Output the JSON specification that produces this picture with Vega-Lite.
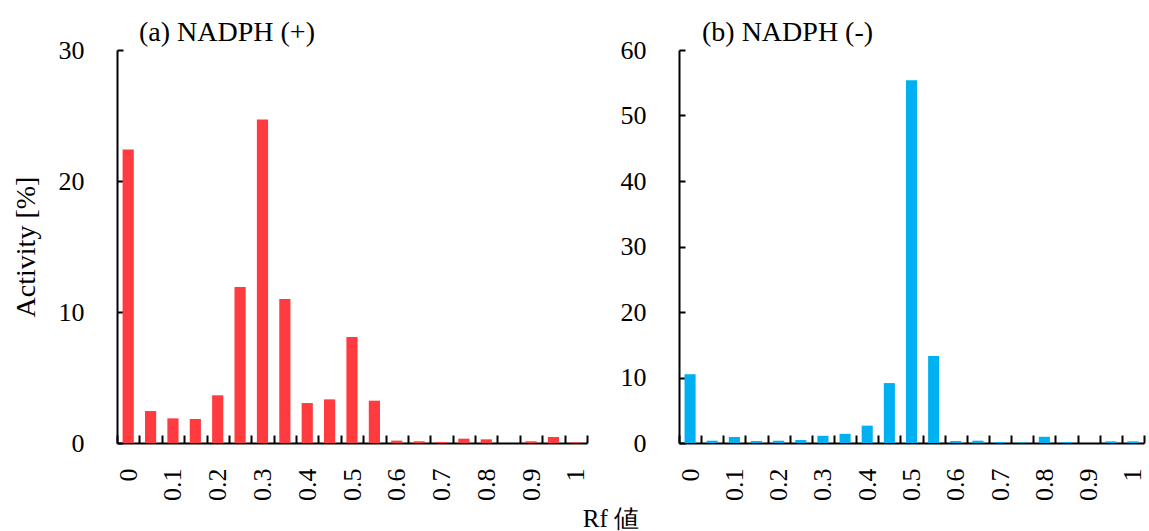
{
  "$schema": "https://vega.github.io/schema/vega-lite/v6.json",
  "background": "white",
  "padding": {"left": 12, "top": 19, "right": 0, "bottom": 0},
  "title": {"text": "Rf 値", "orient": "bottom", "anchor": "middle", "fontSize": 25, "font": "Liberation Serif", "fontWeight": "normal", "color": "black", "offset": 6, "dx": 32},
  "config": {
    "font": "Liberation Serif",
    "view": {"stroke": null},
    "concat": {"spacing": 31},
    "axis": {
      "labelFont": "Liberation Serif", "labelFontSize": 26, "labelColor": "black",
      "titleFont": "Liberation Serif", "titleFontSize": 28, "titleFontWeight": "normal", "titleColor": "black",
      "domainColor": "black", "domainWidth": 2, "tickColor": "black", "tickWidth": 2, "grid": false
    },
    "title": {"font": "Liberation Serif", "fontSize": 28, "fontWeight": "normal", "color": "black"}
  },
  "datasets": {
    "a": [
      {"rf": "0", "activity": 22.4}, {"rf": "0.05", "activity": 2.44}, {"rf": "0.1", "activity": 1.88},
      {"rf": "0.15", "activity": 1.83}, {"rf": "0.2", "activity": 3.64}, {"rf": "0.25", "activity": 11.9},
      {"rf": "0.3", "activity": 24.7}, {"rf": "0.35", "activity": 11.0}, {"rf": "0.4", "activity": 3.05},
      {"rf": "0.45", "activity": 3.33}, {"rf": "0.5", "activity": 8.1}, {"rf": "0.55", "activity": 3.23},
      {"rf": "0.6", "activity": 0.18}, {"rf": "0.65", "activity": 0.13}, {"rf": "0.7", "activity": 0.08},
      {"rf": "0.75", "activity": 0.33}, {"rf": "0.8", "activity": 0.28}, {"rf": "0.85", "activity": 0},
      {"rf": "0.9", "activity": 0.13}, {"rf": "0.95", "activity": 0.46}, {"rf": "1", "activity": 0.05}
    ],
    "b": [
      {"rf": "0", "activity": 10.5}, {"rf": "0.05", "activity": 0.35}, {"rf": "0.1", "activity": 0.9},
      {"rf": "0.15", "activity": 0.3}, {"rf": "0.2", "activity": 0.35}, {"rf": "0.25", "activity": 0.45},
      {"rf": "0.3", "activity": 1.1}, {"rf": "0.35", "activity": 1.4}, {"rf": "0.4", "activity": 2.65},
      {"rf": "0.45", "activity": 9.15}, {"rf": "0.5", "activity": 55.4}, {"rf": "0.55", "activity": 13.3},
      {"rf": "0.6", "activity": 0.3}, {"rf": "0.65", "activity": 0.35}, {"rf": "0.7", "activity": 0.15},
      {"rf": "0.75", "activity": 0.1}, {"rf": "0.8", "activity": 0.95}, {"rf": "0.85", "activity": 0.15},
      {"rf": "0.9", "activity": 0}, {"rf": "0.95", "activity": 0.25}, {"rf": "1", "activity": 0.25}
    ]
  },
  "hconcat": [
    {
      "data": {"name": "a"},
      "width": 470, "height": 393,
      "title": {"text": "(a) NADPH (+)", "anchor": "start", "frame": "group", "dx": 22, "offset": -10},
      "mark": {"type": "bar", "color": "#FF3B3F", "width": {"band": 0.5}},
      "encoding": {
        "x": {"field": "rf", "type": "ordinal", "sort": null,
          "scale": {"paddingInner": 0, "paddingOuter": 0},
          "axis": {"title": null, "labelAngle": -90, "labelExpr": "length(datum.label) <= 3 ? datum.label : ''", "tickBand": "extent", "tickSize": -8, "labelPadding": 33}},
        "y": {"field": "activity", "type": "quantitative", "scale": {"domain": [0, 30]},
          "axis": {"values": [0, 10, 20, 30], "title": "Activity [%]", "tickSize": -6, "labelPadding": 39, "titlePadding": 18}}
      }
    },
    {
      "data": {"name": "b"},
      "width": 465, "height": 393,
      "title": {"text": "(b) NADPH (-)", "anchor": "start", "frame": "group", "dx": 23, "offset": -10},
      "mark": {"type": "bar", "color": "#00B0F0", "width": {"band": 0.5}},
      "encoding": {
        "x": {"field": "rf", "type": "ordinal", "sort": null,
          "scale": {"paddingInner": 0, "paddingOuter": 0},
          "axis": {"title": null, "labelAngle": -90, "labelExpr": "length(datum.label) <= 3 ? datum.label : ''", "tickBand": "extent", "tickSize": -8, "labelPadding": 33}},
        "y": {"field": "activity", "type": "quantitative", "scale": {"domain": [0, 60]},
          "axis": {"values": [0, 10, 20, 30, 40, 50, 60], "title": null, "tickSize": -6, "labelPadding": 39}}
      }
    }
  ]
}
